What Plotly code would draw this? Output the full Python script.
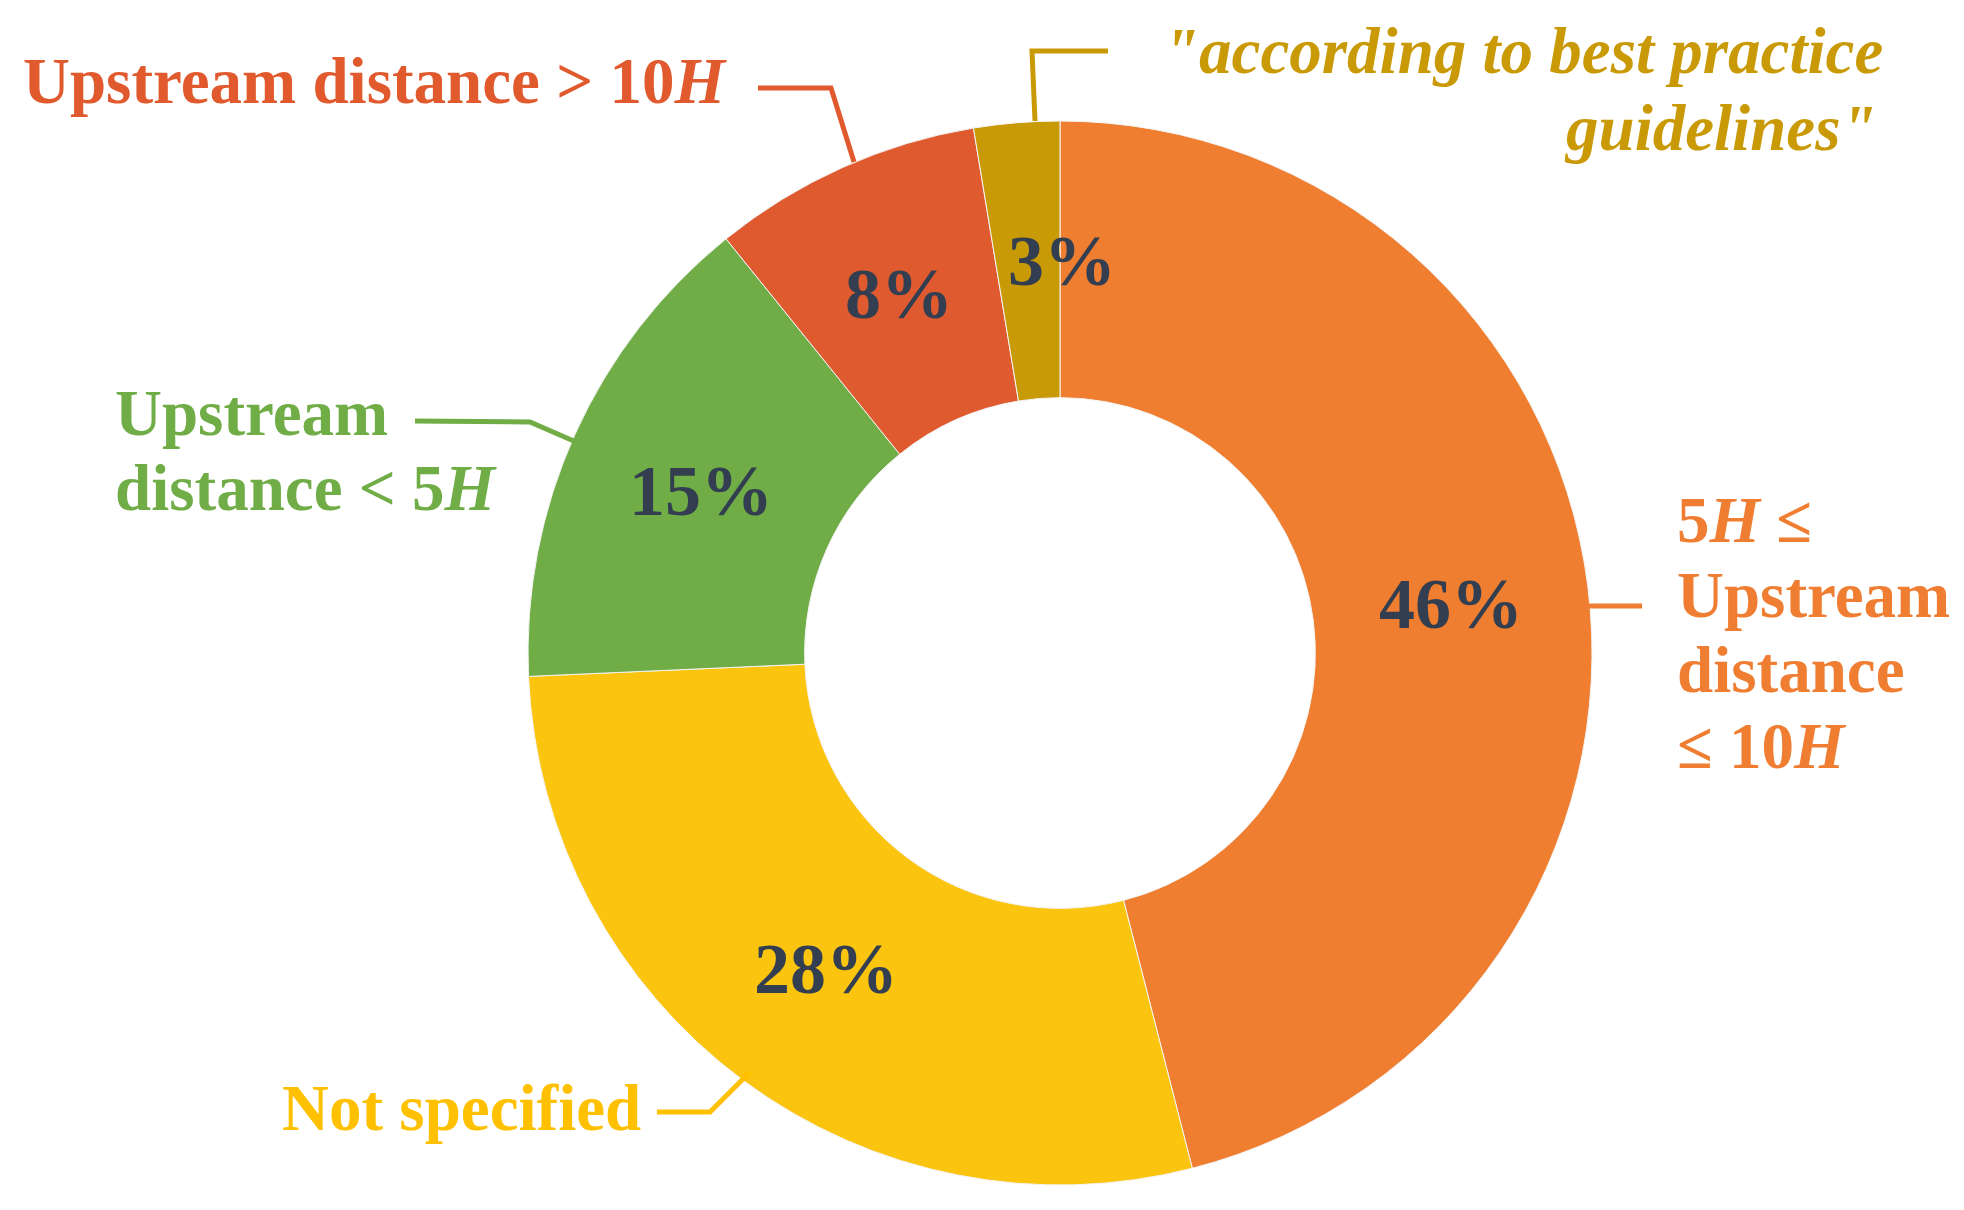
import math
import plotly.graph_objects as go

# data
labels = ["5H ≤ Upstream distance ≤ 10H", "Not specified", "Upstream distance < 5H",
          "Upstream distance > 10H", "\"according to best practice guidelines\""]
values = [46.0, 28.3, 14.9, 8.2, 2.6]
slice_colors = ["#F07E30", "#FBC40E", "#70AD47", "#DF5A2F", "#C89A05"]

W, H = 1964, 1210
PAD = 8  # default body margin of the html page
FW, FH = W - 2 * PAD, H - 2 * PAD
CX, CY, R = 1060, 653, 532
HOLE = 0.48
FONT = "Liberation Serif"


def px(x):
    return (x - PAD) / FW


def py(y):
    return 1 - (y - PAD) / FH


fig = go.Figure()
fig.add_trace(go.Pie(
    labels=labels, values=values, sort=False, direction="clockwise", rotation=0,
    hole=HOLE, textinfo="none", hoverinfo="label+percent",
    marker=dict(colors=slice_colors, line=dict(color="#F4F4F4", width=1)),
    domain=dict(x=[px(CX - R), px(CX + R)], y=[py(CY + R), py(CY - R)]),
    showlegend=False,
))

annotations = []

# percentage labels at the middle of each ring segment
total = sum(values)
cum = 0
pct_shift = {4: 34}
for i, v in enumerate(values):
    mid = (cum + v / 2) / total * 2 * math.pi
    cum += v
    rm = R * (1 + HOLE) / 2
    x = CX + rm * math.sin(mid)
    y = CY - rm * math.cos(mid)
    annotations.append(dict(
        x=px(x), y=py(y), xref="paper", yref="paper", showarrow=False,
        text="<b>%d%%</b>" % round(v / total * 100), xshift=pct_shift.get(i, 0),
        font=dict(family=FONT, size=72, color="#333F50"),
        xanchor="center", yanchor="middle",
    ))

# outside category labels (one annotation per line)
S = 65


def label(text, x, baseline, color, anchor="left"):
    annotations.append(dict(
        x=px(x), y=py(baseline - 0.3375 * S), xref="paper", yref="paper",
        showarrow=False, text="<b>%s</b>" % text, xanchor=anchor, yanchor="middle",
        font=dict(family=FONT, size=S, color=color),
    ))


label("Upstream distance &gt; 10<i>H</i>", 21, 103, "#E05A2E")
label("<i>\"according to best practice</i>", 1885, 73, "#C99A06", "right")
label("<i>guidelines\"</i>", 1879, 150, "#C99A06", "right")
label("Upstream", 113, 435, "#70AD47")
label("distance &lt; 5<i>H</i>", 113, 510, "#70AD47")
label("5<i>H</i> ≤", 1675, 542, "#EF7E32")
label("Upstream", 1675, 617, "#EF7E32")
label("distance", 1675, 692, "#EF7E32")
label("≤ 10<i>H</i>", 1675, 768, "#EF7E32")
label("Not specified", 280, 1130, "#FFC000")

# leader lines
leaders = [
    ([(758, 88), (831, 88), (854, 162)], "#E05A2E"),
    ([(1108, 51), (1032, 51), (1035, 121)], "#C99A06"),
    ([(415, 421), (530, 422), (583, 445)], "#70AD47"),
    ([(1583, 606), (1642, 606)], "#EF7E32"),
    ([(657, 1112), (710, 1112), (750, 1072)], "#FFC000"),
]
shapes = []
for pts, c in leaders:
    path = "M " + " L ".join("%f,%f" % (px(a), py(b)) for a, b in pts)
    shapes.append(dict(type="path", path=path, xref="paper", yref="paper",
                       line=dict(color=c, width=5)))

fig.update_layout(
    width=FW, height=FH, margin=dict(l=0, r=0, t=0, b=0),
    paper_bgcolor="white", plot_bgcolor="white",
    annotations=annotations, shapes=shapes,
)
fig.write_html("out.html")
